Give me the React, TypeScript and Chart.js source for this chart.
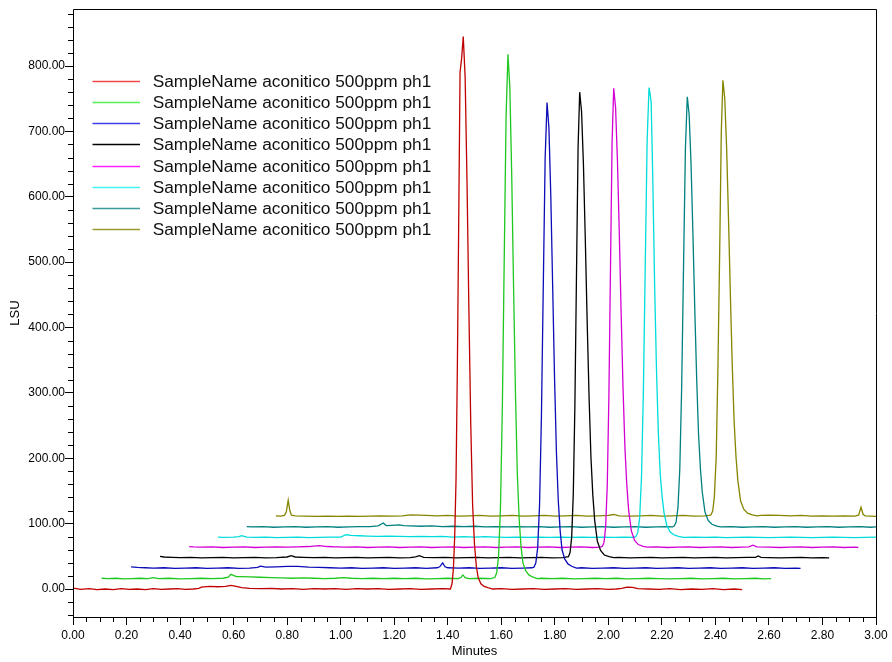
import { useEffect, useRef } from 'react';
import { Chart, registerables } from 'chart.js';

Chart.register(...registerables);

type Pt = [number, number];

// Minutes, LSU
const traceRed: Pt[] = [
  [0.00,1.5],[0.03,-0.5],[0.06,0.5],[0.09,-1],[0.12,0],[0.15,-1],[0.18,0.5],[0.21,-0.5],[0.24,0],[0.27,-1],[0.30,0.5],[0.33,-0.5],[0.36,0],[0.39,0.5],[0.42,-0.5],[0.45,0],[0.47,1],[0.48,3],[0.51,4],[0.54,3.5],[0.57,4],[0.59,5.5],[0.61,4],[0.63,2],[0.66,1],[0.70,0.5],[0.74,1],[0.78,0],[0.82,0.5],[0.86,-0.5],[0.90,0.5],[0.94,0],[0.98,0.5],[1.02,-0.5],[1.06,0.5],[1.10,0],[1.14,0.5],[1.18,-0.5],[1.22,0],[1.26,0.5],[1.30,-0.5],[1.34,0],[1.38,0.5],[1.41,0],
  [1.416,8],[1.421,30],[1.426,80],[1.431,167],[1.436,340],[1.441,560],[1.446,790],[1.452,812],[1.458,845],[1.465,783],[1.472,624],[1.479,428],[1.486,252],[1.493,128],[1.500,68],[1.507,34],[1.514,17],[1.524,8],[1.536,4],[1.550,2],[1.568,0],
  [1.60,0.5],[1.64,-0.5],[1.68,0],[1.72,0.5],[1.76,-0.5],[1.80,0],[1.84,0.5],[1.88,-0.5],[1.92,0],[1.96,0.5],[2.00,-0.5],[2.03,0],[2.05,1],[2.07,3],[2.09,2.5],[2.11,0.5],[2.15,0],[2.19,-0.5],[2.23,0.5],[2.27,-1],[2.31,0],[2.35,-0.5],[2.39,0.5],[2.43,-1],[2.47,0],[2.50,-1],
];

const traceGreen: Pt[] = [
  [0.107,16.5],[0.13,16],[0.16,16.5],[0.19,15.5],[0.22,16],[0.25,16.5],[0.28,16],[0.30,17.5],[0.32,16],[0.36,16.5],[0.40,15.5],[0.44,16],[0.48,16.5],[0.52,16],[0.56,16.5],[0.58,18],[0.59,22.5],[0.61,19],[0.63,19],[0.66,18.5],[0.70,18],[0.74,17.5],[0.78,17],[0.82,16.5],[0.86,17],[0.90,16.5],[0.94,16],[0.98,16.5],[1.01,17.5],[1.04,16.5],[1.08,16],[1.12,16.5],[1.16,16],[1.20,16.5],[1.24,16],[1.28,16.5],[1.32,15.5],[1.36,16],[1.40,16.5],[1.44,16],[1.45,18],[1.457,21.5],[1.465,17.5],[1.48,16],[1.52,16.5],[1.56,16],
  [1.576,17.6],[1.583,24.8],[1.590,51],[1.597,124],[1.604,277],[1.611,503],[1.618,723],[1.625,818],[1.632,767],[1.639,634],[1.646,462],[1.653,300],[1.660,176],[1.667,106],[1.674,64],[1.681,40],[1.691,28],[1.703,21.6],[1.717,18.4],[1.735,16],
  [1.75,16.5],[1.79,16],[1.83,16.5],[1.87,15.5],[1.91,16],[1.95,16.5],[1.99,16],[2.03,16.5],[2.07,15.5],[2.11,16],[2.15,16.5],[2.19,16],[2.23,15.5],[2.27,16],[2.31,16.5],[2.35,15.5],[2.39,16],[2.43,16.5],[2.47,15.5],[2.51,16],[2.55,16.5],[2.58,15.5],[2.608,16],
];

const traceBlue: Pt[] = [
  [0.217,34],[0.24,33],[0.27,32.5],[0.30,32],[0.34,32.5],[0.38,31.5],[0.42,32],[0.46,32.5],[0.50,31.5],[0.54,32],[0.58,32.5],[0.62,31.5],[0.66,32],[0.69,33],[0.70,35],[0.72,33.5],[0.76,34],[0.80,34.5],[0.84,34.5],[0.88,33.5],[0.92,33],[0.96,32.5],[1.00,32],[1.04,32.5],[1.08,31.5],[1.12,32],[1.16,32.5],[1.20,31.5],[1.24,32],[1.28,32.5],[1.32,31.5],[1.36,32.5],[1.37,34],[1.381,40],[1.39,34],[1.40,32.5],[1.44,32],[1.48,32.5],[1.52,31.5],[1.56,32],[1.60,32.5],[1.64,31.5],[1.68,32],[1.715,32.5],
  [1.722,33.4],[1.729,39.8],[1.736,63],[1.743,128],[1.750,263],[1.757,464],[1.764,660],[1.771,744],[1.778,706],[1.785,602],[1.792,464],[1.799,324],[1.806,210],[1.813,135],[1.820,89],[1.827,60],[1.837,46],[1.849,38.4],[1.863,34.8],[1.881,32],
  [1.90,32.5],[1.94,31.5],[1.98,32],[2.02,32.5],[2.06,31.5],[2.10,32],[2.14,32.5],[2.18,31.5],[2.22,32],[2.26,32.5],[2.30,31.5],[2.34,32],[2.38,32.5],[2.42,31.5],[2.46,32],[2.50,32.5],[2.54,31.5],[2.58,32],[2.62,32.5],[2.66,31.5],[2.70,32],[2.718,31.5],
];

const traceBlack: Pt[] = [
  [0.325,50],[0.34,49],[0.37,48.5],[0.40,48],[0.44,48.5],[0.48,47.5],[0.52,48],[0.56,48.5],[0.60,47.5],[0.64,48],[0.68,48.5],[0.72,47.5],[0.76,48],[0.80,49],[0.815,51],[0.83,49],[0.86,48.5],[0.90,48],[0.94,48.5],[0.98,47.5],[1.02,48],[1.06,48.5],[1.10,47.5],[1.14,48],[1.18,48.5],[1.22,47.5],[1.26,48],[1.28,49],[1.294,51],[1.31,48.5],[1.35,48],[1.39,48.5],[1.43,47.5],[1.47,48],[1.51,48.5],[1.55,47.5],[1.59,48],[1.63,48.5],[1.67,47.5],[1.71,48],[1.75,48.5],[1.79,47.5],[1.83,48],
  [1.851,49.4],[1.857,55.8],[1.863,79],[1.869,144],[1.875,279],[1.881,480],[1.887,676],[1.893,760],[1.900,730],[1.907,649],[1.914,534],[1.921,408],[1.928,294],[1.935,202],[1.942,144],[1.949,105],[1.959,73],[1.971,59],[1.985,52],[2.003,49.4],[2.02,48],
  [2.04,48.5],[2.08,47.5],[2.12,48],[2.16,48.5],[2.20,47.5],[2.24,48],[2.28,48.5],[2.32,47.5],[2.36,48],[2.40,48.5],[2.44,47.5],[2.48,48],[2.52,48.5],[2.55,48.5],[2.56,50.5],[2.57,48.5],[2.60,48],[2.64,47.5],[2.68,48],[2.72,48.5],[2.76,47.5],[2.80,48],[2.825,47.5],
];

const traceMagenta: Pt[] = [
  [0.434,65],[0.45,64.5],[0.48,64],[0.52,64.5],[0.56,63.5],[0.60,64],[0.64,64.5],[0.68,63.5],[0.72,64],[0.76,64.5],[0.80,64],[0.84,64.5],[0.88,65],[0.92,66.5],[0.95,65],[0.98,64.5],[1.02,64],[1.06,64.5],[1.10,63.5],[1.14,64],[1.18,64.5],[1.22,63.5],[1.26,64],[1.30,64.5],[1.34,63.5],[1.38,64],[1.42,64.5],[1.46,63.5],[1.50,64],[1.54,64.5],[1.58,63.5],[1.62,64],[1.66,64.5],[1.70,63.5],[1.74,64],[1.78,64.5],[1.82,63.5],[1.86,64],[1.90,64.5],[1.94,63.5],[1.97,64],
  [1.978,65.4],[1.984,71.7],[1.990,95],[1.996,159],[2.002,292],[2.008,490],[2.014,683],[2.020,766],[2.027,737],[2.034,656],[2.041,543],[2.048,419],[2.055,306],[2.062,216],[2.069,159],[2.076,120],[2.086,89],[2.098,74.5],[2.112,68],[2.130,65.4],[2.145,64],
  [2.18,64.5],[2.22,63.5],[2.26,64],[2.30,64.5],[2.34,63.5],[2.38,64],[2.42,64.5],[2.46,63.5],[2.50,64],[2.525,64.5],[2.54,67],[2.555,64.5],[2.60,64],[2.64,63.5],[2.68,64],[2.72,64.5],[2.76,63.5],[2.80,64],[2.84,64.5],[2.88,63.5],[2.92,64],[2.934,63.5],
];

const traceCyan: Pt[] = [
  [0.542,79.5],[0.56,79],[0.60,79.5],[0.62,80],[0.63,81.5],[0.65,79.5],[0.68,79],[0.72,79.5],[0.76,78.5],[0.80,79],[0.84,79.5],[0.88,78.5],[0.92,79],[0.96,79.5],[1.00,79.5],[1.02,83],[1.04,82],[1.07,81.5],[1.10,81],[1.14,80.5],[1.18,81],[1.22,80.5],[1.26,80],[1.30,80.5],[1.34,80],[1.38,80.5],[1.42,79.5],[1.46,80],[1.50,79.5],[1.54,80],[1.58,79.5],[1.62,79],[1.66,79.5],[1.70,79],[1.74,79.5],[1.78,79],[1.82,79.5],[1.86,79],[1.90,79.5],[1.94,79],[1.98,79.5],[2.02,79],[2.06,79.5],[2.096,79],
  [2.103,80.4],[2.110,86.6],[2.117,109],[2.124,172],[2.131,303],[2.138,497],[2.145,686],[2.152,767],[2.156,757],[2.160,745],[2.166,629],[2.173,464],[2.180,334],[2.187,237],[2.194,175],[2.201,141],[2.208,117],[2.218,98],[2.230,88],[2.244,83],[2.262,80.5],[2.28,79],
  [2.32,79.5],[2.36,79],[2.40,79.5],[2.44,78.5],[2.48,79],[2.52,79.5],[2.56,79],[2.60,78.5],[2.64,79],[2.68,79.5],[2.72,79],[2.76,78.5],[2.80,79],[2.84,79.5],[2.88,79],[2.92,78.5],[2.96,79],[3.00,79.5],
];

const traceTeal: Pt[] = [
  [0.649,95.5],[0.67,95],[0.71,95.5],[0.75,94.5],[0.79,95],[0.83,95.5],[0.87,94.5],[0.91,95],[0.95,95.5],[0.99,94.5],[1.03,95],[1.07,95.5],[1.11,95.5],[1.14,96.5],[1.159,101],[1.17,97],[1.19,97.5],[1.22,98],[1.235,97],[1.26,96.5],[1.30,96],[1.34,96.5],[1.38,95.5],[1.42,96],[1.46,95.5],[1.50,96],[1.54,95],[1.58,95.5],[1.62,95],[1.66,95.5],[1.70,95],[1.74,95.5],[1.78,94.5],[1.82,95],[1.86,95.5],[1.90,94.5],[1.94,95],[1.98,95.5],[2.02,94.5],[2.06,95],[2.10,95.5],[2.14,94.5],[2.18,95],[2.22,95.5],[2.24,95],
  [2.246,96.3],[2.253,102],[2.260,124],[2.267,184],[2.274,309],[2.281,494],[2.288,675],[2.295,753],[2.302,725],[2.309,650],[2.316,544],[2.323,428],[2.330,322],[2.337,237],[2.344,184],[2.351,148],[2.361,118],[2.373,105],[2.387,99],[2.405,96.3],[2.42,95],
  [2.46,95.5],[2.50,94.5],[2.54,95],[2.58,95.5],[2.62,94.5],[2.66,95],[2.70,95.5],[2.74,94.5],[2.78,95],[2.82,95.5],[2.86,94.5],[2.90,95],[2.94,95.5],[2.98,94.5],[3.00,95],
];

const traceOlive: Pt[] = [
  [0.758,112],[0.775,111.5],[0.79,112.5],[0.797,118],[0.804,136],[0.810,120],[0.816,113],[0.83,112],[0.87,111.5],[0.91,111],[0.95,111.5],[0.99,111],[1.03,111.5],[1.07,111],[1.11,111.5],[1.15,112],[1.19,111.5],[1.23,112],[1.26,113.5],[1.29,113],[1.32,112.5],[1.36,112],[1.40,112.5],[1.44,111.5],[1.48,112],[1.52,112.5],[1.56,111.5],[1.60,112],[1.64,112.5],[1.68,111.5],[1.72,112],[1.76,112.5],[1.80,111.5],[1.84,112],[1.88,112.5],[1.92,111.5],[1.96,112],[2.00,112.5],[2.02,114],[2.04,112],[2.08,111.5],[2.12,112],[2.16,112.5],[2.20,111.5],[2.24,112],[2.28,112.5],[2.32,111.5],[2.36,112],[2.377,112.5],
  [2.383,113.3],[2.390,119.3],[2.396,141],[2.403,202],[2.409,328],[2.416,516],[2.422,699],[2.428,778],[2.435,750],[2.442,674],[2.449,566],[2.456,449],[2.463,342],[2.470,256],[2.477,202],[2.484,165],[2.494,135],[2.506,122],[2.520,116],[2.538,113.3],[2.555,112],
  [2.57,112.5],[2.60,113],[2.64,112.5],[2.68,112],[2.72,112.5],[2.76,111.5],[2.80,112],[2.84,111.5],[2.88,112],[2.92,111.5],[2.935,113],[2.944,125],[2.952,114],[2.96,112],[2.98,111.5],[3.00,111],
];

const traces: Pt[][] = [traceRed, traceGreen, traceBlue, traceBlack, traceMagenta, traceCyan, traceTeal, traceOlive];
const seriesLabels = [
  'SampleName aconitico 500ppm ph1',
  'SampleName aconitico 500ppm ph1',
  'SampleName aconitico 500ppm ph1',
  'SampleName aconitico 500ppm ph1',
  'SampleName aconitico 500ppm ph1',
  'SampleName aconitico 500ppm ph1',
  'SampleName aconitico 500ppm ph1',
  'SampleName aconitico 500ppm ph1',
];
const seriesColors = ['#c00000', '#1ec81e', '#0c0cb8', '#000000', '#d400d4', '#00dcdc', '#008080', '#858500'];
const legendColors = ['#f04848', '#55ee55', '#3c3ce8', '#000000', '#ff22ff', '#44f4f4', '#3c9a9a', '#9a9a30'];

const X_MIN = 0;
const X_MAX = 3;
const X_STEP = 0.2;
const Y_MIN = -42.8;
const Y_MAX = 887.2;
const Y_STEP = 100;
const xAxisTitle = 'Minutes';
const yAxisTitle = 'LSU';

const FONT = 'Arial, "Liberation Sans", Helvetica, sans-serif';

const frameAndLegend = {
  id: 'frameAndLegend',
  afterDraw(chart: any) {
    const { ctx, chartArea: a, scales } = chart;
    const xs = scales.x;
    const ys = scales.y;
    ctx.save();
    ctx.strokeStyle = '#000';
    ctx.lineWidth = 1;
    ctx.beginPath();
    ctx.rect(a.left + 0.5, a.top + 0.5, a.right - a.left, a.bottom - a.top);
    ctx.stroke();

    // minor ticks
    ctx.beginPath();
    const xMinorCount = Math.round((xs.max - xs.min) / (X_STEP / 4));
    for (let k = 0; k <= xMinorCount; k++) {
      if (k % 4 === 0) continue;
      const px = Math.round(xs.getPixelForValue(xs.min + k * (X_STEP / 4))) + 0.5;
      ctx.moveTo(px, a.bottom);
      ctx.lineTo(px, a.bottom + 5);
    }
    const yMinorStep = Y_STEP / 5;
    for (let k = Math.ceil(ys.min / yMinorStep); k <= Math.floor(ys.max / yMinorStep); k++) {
      if (k % 5 === 0) continue;
      const py = Math.round(ys.getPixelForValue(k * yMinorStep)) + 0.5;
      ctx.moveTo(a.left - 5, py);
      ctx.lineTo(a.left, py);
    }
    ctx.stroke();

    // legend
    ctx.font = `17.3px ${FONT}`;
    ctx.textBaseline = 'middle';
    ctx.textAlign = 'left';
    chart.data.datasets.forEach((ds: any, i: number) => {
      const y = Math.round(a.top + 71.7 + i * 21.23);
      ctx.strokeStyle = legendColors[i];
      ctx.lineWidth = 1.5;
      ctx.beginPath();
      ctx.moveTo(a.left + 19.5, y + 0.5);
      ctx.lineTo(a.left + 67, y + 0.5);
      ctx.stroke();
      ctx.fillStyle = '#111';
      ctx.fillText(ds.label, a.left + 79.7, y + 1);
    });
    ctx.restore();
  },
};

export default function App() {
  const ref = useRef<HTMLCanvasElement>(null);

  useEffect(() => {
    const canvas = ref.current;
    if (!canvas) return;
    const chart = new Chart(canvas, {
      type: 'line',
      data: {
        datasets: traces.map((t, i) => ({
          label: seriesLabels[i],
          data: t.map(([x, y]) => ({ x, y })),
          borderColor: seriesColors[i],
          backgroundColor: seriesColors[i],
          borderWidth: 1.3,
          pointRadius: 0,
          tension: 0,
          fill: false,
        })),
      },
      options: {
        responsive: false,
        animation: false,
        events: [],
        layout: { padding: { top: 9, right: 16, bottom: 0, left: 0 } },
        plugins: {
          legend: { display: false },
          tooltip: { enabled: false },
        },
        scales: {
          x: {
            type: 'linear',
            min: X_MIN,
            max: X_MAX,
            afterFit: (s: any) => { s.height = 45; },
            ticks: {
              stepSize: X_STEP,
              includeBounds: false,
              autoSkip: false,
              maxRotation: 0,
              padding: 3,
              color: '#000',
              font: { family: FONT, size: 12 },
              callback: (v: any) => Number(v).toFixed(2),
            },
            grid: { drawOnChartArea: false, drawTicks: true, tickLength: 8, tickColor: '#000', tickWidth: 1, color: '#000' },
            border: { display: false },
            title: { display: true, text: xAxisTitle, color: '#000', font: { family: FONT, size: 13 }, padding: { top: 0, bottom: 3 } },
          },
          y: {
            type: 'linear',
            min: Y_MIN,
            max: Y_MAX,
            afterFit: (s: any) => { s.width = 73; },
            ticks: {
              stepSize: Y_STEP,
              includeBounds: false,
              padding: 0,
              color: '#000',
              font: { family: FONT, size: 12 },
              callback: (v: any) => Number(v).toFixed(2),
            },
            grid: { drawOnChartArea: false, drawTicks: true, tickLength: 8, tickColor: '#000', tickWidth: 1, color: '#000' },
            border: { display: false },
            title: { display: true, text: yAxisTitle, color: '#000', font: { family: FONT, size: 13 }, padding: { top: 8, bottom: 0 } },
          },
        },
      },
      plugins: [frameAndLegend],
    });
    return () => chart.destroy();
  }, []);

  return (
    <div style={{ position: 'absolute', left: 0, top: 0, width: 892, height: 662, background: '#fff' }}>
      <canvas ref={ref} width={892} height={662} style={{ display: 'block' }} />
    </div>
  );
}
